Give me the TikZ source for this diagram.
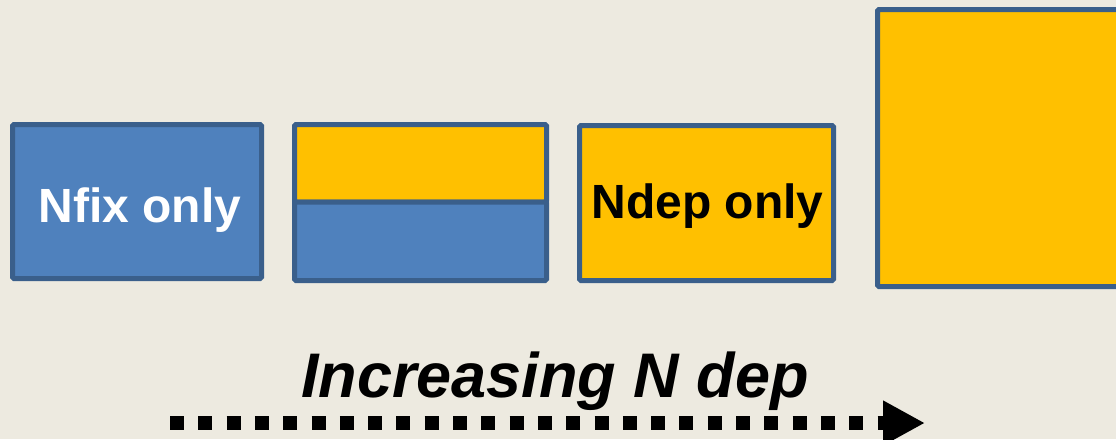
\documentclass[tikz,border=0pt]{standalone}
\usepackage{fontspec}
\setmainfont{Liberation Sans}
\usetikzlibrary{arrows.meta}
\definecolor{bgc}{HTML}{EDEAE0}
\definecolor{bluef}{HTML}{4F81BD}
\definecolor{bordc}{HTML}{3A5F8B}
\definecolor{orangef}{HTML}{FFC000}
\tikzset{
  box/.style={rectangle, draw=bordc, line width=5pt, rounded corners=1.5pt, inner sep=0pt},
  bluebox/.style={box, fill=bluef},
  orangebox/.style={box, fill=orangef},
  lbl/.style={font=\bfseries\fontsize{48}{58}\selectfont, inner sep=0pt, anchor=base},
  dotline/.style={line width=14pt, dash pattern=on 14pt off 14.3pt, -{Triangle[length=42pt,width=42pt]}}
}
\begin{document}
\begin{tikzpicture}[x=1pt,y=-1pt]
\fill[bgc] (0,0) rectangle (1116,439);
\useasboundingbox (0,0) rectangle (1116,439);
\clip (0,0) rectangle (1116,439);
% box 1
\node[bluebox, minimum width=249pt, minimum height=154pt] (b1) at (137,201.5) {};
\node[lbl, text=white] (t1) at (140,222) {Nfix only};
% box 2
\node[orangebox, minimum width=252pt, minimum height=77.5pt] (b2top) at (420.5,163.25) {};
\node[bluebox, minimum width=252pt, minimum height=78.5pt] (b2bot) at (420.5,241.25) {};
% box 3
\node[orangebox, minimum width=254pt, minimum height=155pt] (b3) at (706.5,203) {};
\node[lbl, text=black] (t3) at (707.5,218) {Ndep only};
% box 4
\node[orangebox, minimum width=280pt, minimum height=277pt] (b4) at (1017.5,148) {};
% caption
\node[font=\bfseries\itshape\fontsize{63}{75}\selectfont, inner sep=0pt, anchor=base] (cap) at (555,397) {Increasing N dep};
% arrow
\coordinate (as) at (170,423);
\coordinate (ae) at (925,423);
\draw[dotline] (as) -- (ae);
\end{tikzpicture}
\end{document}
